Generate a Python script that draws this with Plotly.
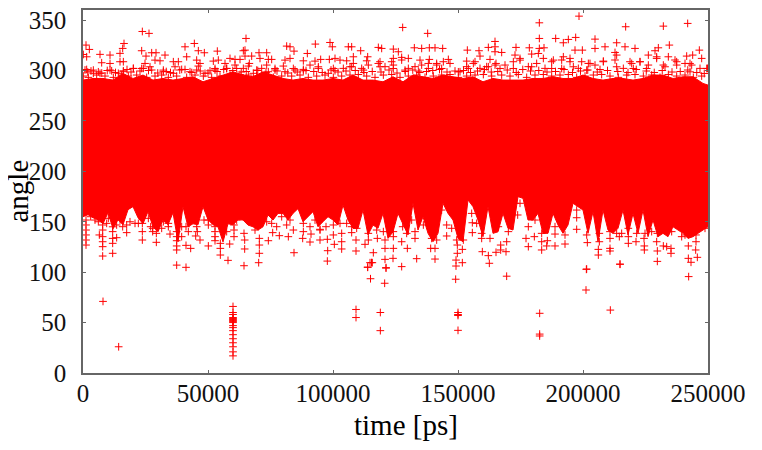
import plotly.graph_objects as go

RED = "#ff0000"
AXIS = "#666666"
FONT = "Liberation Serif, Times New Roman, serif"

band_low_t = list(range(0, 250001, 2000))
band_low = [155,157,154,152,148,159,143,152,147,162,165,154,148,160,145,140,152,147,159,130,165,145,148,147,165,152,147,145,130,148,147,152,
            151.7,146.7,145,141.8,145,156.7,151.7,158.3,158.3,151.7,158.3,163,150,155,160,145,150,155,151.7,146.7,166.6,151.7,143.5,143.5,161.6,137,146.7,143.5,158.3,133.5,140,158.3,
            146.8,136.9,168.3,141.8,155,138.5,130.2,138.5,168.3,158.3,151.7,133.5,130.2,171.6,165,151.7,135.2,165,138.5,140,158.3,143.5,141.8,174.9,173.2,151.7,151.7,158.3,138.5,138.5,158.3,146.8,
            138.5,146.8,168.3,165,161.6,138.5,160,130.2,161.6,141.8,138.5,143.5,161.6,136.9,158.3,138.5,161.6,135.2,151.7,135.2,138.5,135.2,145,141.8,138.5,133.5,135.2,138.5,141.8,145]
band_top_t = list(range(0, 124001, 4000)) + list(range(128000, 248001, 4000)) + [250000]
band_top = [290.5,292.1,292.1,290.5,297.1,292.1,295.5,290.5,292.1,290.5,292.1,293.8,288.8,292.1,295.5,298.7,295.5,293.8,298.7,295.5,292.1,290.5,292.1,290.5,290.5,292.1,290.5,295.5,290.5,290.5,288.8,293.8,
            288.8,295.5,293.8,292.1,295.5,293.8,292.1,293.8,288.8,292.1,290.5,290.5,290.5,292.1,292.1,293.8,292.1,292.1,295.5,292.1,290.5,292.1,292.1,290.5,292.1,295.5,295.5,292.1,293.8,293.8,287.2,285.5]

# Individual + markers above the band
high_t = [23733,26400,1200,2533,133,1467,6800,10800,14800,16400,15870,23470,25200,27470,29200,32800,40800,44530,46130,48530,53730,65200,64130,64800,67470,70400,73470,81470,82800,84400,89730,92930,98800,99730,106130,107470,108130,111070,113870,118130,119470,124130,126130,
          7470,10800,14800,16130,24800,28800,30800,36130,38130,41470,45470,46800,52130,54130,56800,58800,60800,62800,64800,66530,70800,74130,75470,80800,82800,88130,92800,95070,98530,100800,102800,105470,108130,113470,118800,123470,124130,
          1467,4130,6130,11470,16130,20130,23470,26800,32130,36800,40800,46130,50800,52800,57470,61470,66130,69470,73470,76800,80130,84130,88130,94130,100130,106800,112130,118800,124130,
          127870,137870,132530,135470,138530,140800,143870,153730,158400,162130,164800,164800,164800,167470,173200,178530,182530,182530,182530,182130,184400,189070,194130,192130,197070,198400,196800,199730,204800,204800,208800,213470,212800,217070,216800,220800,232130,234530,230130,228800,241870,246530,226130,241470,243870,
          127470,130130,134800,138530,141470,146130,153470,156800,158800,162800,165200,172800,174800,179470,184130,188130,192130,194800,199470,202800,208130,213470,218800,222800,229470,234130,237470,242800,247470,
          128800,134130,138130,143470,150130,154130,162130,166800,172130,179470,187470,191470,196130,201470,206800,213470,220130,225470,232800,237470,242800,249470]
high_v = [338.7,336.8,325.2,320.9,315.9,313.6,316,315.3,317,326.8,321.9,319.6,314.3,317.6,317.6,315.3,323.5,326.8,319.6,317.6,319.2,331.8,319.6,320.2,314.3,317.6,317.6,324.2,323.5,319.2,316.9,326.2,327.8,323.5,323.5,323.5,313.6,319.6,313.6,322.9,321.9,321.2,318.6,
          307.7,307,308.7,308.7,307,310.3,309.6,308.7,308.7,313.6,310.3,307,309.3,310.3,307,312,311,311,314.3,307,312,311,311,310.3,312,309.6,309.3,311,311,312,310.3,309.6,307,309.6,308.7,308.7,312,
          301,300.4,298.7,299.7,299.7,302,302,303.7,300.4,303.7,301,304.4,299.7,302,302,302,304.4,300.4,305.4,302,304.4,302,299.7,303.7,302,303.7,300.4,303.7,302,
          342.7,336.8,322.5,321.9,322.5,322.5,321.9,320.2,319.6,322.9,328.8,323.5,318.6,317.9,322.9,322.5,347.3,331.8,321.9,316.9,322.5,331.8,330.8,327.5,332.8,353.9,320.2,320.2,331.1,321.9,323.5,327.5,317.9,343.4,323.5,321.9,344,325.2,322.5,319.6,346.7,320.2,315.3,314.3,315.3,
          313,312,310.3,311,307,311,309.3,308.7,314.3,311,307,315.3,310.3,316.3,312,310.3,313.6,312,308.7,307,309.3,315.3,308.7,308.7,313.6,313.6,308.7,307,312,
          300.4,299.4,302,302,298.7,302,303.7,302,302,303.7,302,302,303.7,300.4,301,303.7,302,302,303.7,305.4,298.7,302]

fringe_t = [800,4130,6800,10800,14130,16130,20130,24130,27470,32130,36130,39470,42800,45470,48800,52800,57470,60800,64130,68130,71470,74130,76800,80800,
            130,2130,5470,8800,12130,15470,18130,21470,25470,28800,31470,34130,37470,41470,44800,48130,51470,54800,58800,62800,66130,69470,72800,76130,79470,
            84800,88130,90800,94130,98130,100800,104130,107470,111470,114130,118130,120800,124130,127470,130130,132800,135470,138130,141470,144130,146800,150800,153470,156130,158800,161470,164800,
            83470,86800,90130,93470,96800,100130,103470,106800,110130,113470,116800,120130,123470,126800,130130,133470,136800,140130,143470,146800,150130,153470,156800,160130,163470,
            168800,172130,174800,178130,181470,184800,187470,191470,194800,198130,202130,204800,208130,212800,216130,219470,222800,226130,229470,232130,236800,240800,243470,246800,249800,
            167470,170800,174130,177470,180800,184130,187470,190800,194130,197470,200800,204130,207470,210800,214130,217470,220800,224130,227470,230800,234130,237470,240800,244130,247470,
            1900,3200,7500,9700,13000,17600,19200,22800,26200,29900,33300,35000,38700,43500,46900,50000,53600,56300,59900,63300,65300,69900,73200,77600,81900,85700,89200,92300,95700,99200,102000,105200,108900,112400,115700,119200,122400,125600,128900,131900,134700,137400,139900,142600,145600,148800,152200,155000,157800,160600,163300,165900,169700,173300,175900,179000,182300,185600,189000,192400,195800,199000,201900,205700,209800,213900,218000,221300,225300,228500,231700,235600,238900,241900,245500,248500]
fringe_v = [300.5,297.2,297.2,300.5,297.2,298.8,302.1,302.1,300.5,298.8,297.2,301.1,298.8,300.5,297.2,300.5,302.1,305.4,302.1,297.2,302.1,298.8,300.5,298.8,
            294.5,293.2,295.5,294.5,293.2,295.5,294.5,295.5,293.2,294.5,295.5,293.2,294.5,293.2,295.5,294.5,293.2,294.5,295.5,296,295.5,294.5,296,293.2,294.5,
            300.5,301.1,305.4,302.1,297.2,299.8,302.1,303.8,302.1,305.4,307,303.8,305.4,310.4,302.1,303.8,305.4,307,305.4,308.7,307,298.8,303.8,307,302.1,303.8,305.4,
            294.5,295.5,293.2,294.5,295.5,293.2,294.5,295.5,296,294.5,293.2,295.5,296,293.2,294.5,295.5,293.2,294.5,295.5,296,293.2,294.5,295.5,296,294.5,
            305.4,308.7,312,303.8,307,302.1,308.7,310.4,308.7,302.1,307,305.4,308.7,310.4,302.1,307,308.7,305.4,312,305.4,310.4,307,305.4,302.1,302.1,
            295.5,294.5,296,293.2,295.5,296,294.5,295.5,296,293.2,294.5,295.5,296,294.5,293.2,295.5,296,294.5,295.5,293.2,296,294.5,295.5,293.2,294.5,
            298.5,299.5,297.5,300,298,301,298.5,299.5,300,297.5,299,298,300.5,298,299.5,297.5,299,301,300,298.5,299,300,298,299.5,297.5,298.5,300,299,298,300.5,298.5,299.5,300,298,299,298.5,300.5,297.5,299,300.5,298,299,300,301,298.5,299.5,300,298,299.5,301,298.5,299,300.5,298,301,299.5,300,298.5,299,301,298,299.5,300.5,298.5,300,299,298,301,299.5,298,300,298.5,299,300.5,298,297]

# Individual + markers below the band
low_t = [1200,1200,1200,1200,1200,1200,7870,7870,7870,7870,7870,7870,6530,11870,11870,11870,11870,11870,13470,17470,17470,20800,23730,23730,23730,27870,27870,29330,29330,34130,34800,37470,37470,37470,37470,37470,37470,39470,41200,41200,43070,45070,46800,50130,50130,52800,52800,52800,54930,54930,54930,58670,58000,60400,60400,
         64400,64670,64670,64400,70530,70530,70530,70270,74130,75870,78530,82130,84130,84400,87870,88130,90800,91200,94800,94800,97730,97870,97730,100130,100530,103470,103470,103470,107470,109200,109200,112800,114130,116130,114800,115730,113870,117730,120800,120800,120800,121200,124130,124130,124000,
         127470,127470,129730,133470,132800,139070,140800,140800,145470,149730,149730,149200,149200,151730,151730,155730,155730,159730,159470,162130,162530,165200,167070,167070,169200,169470,173870,177200,178130,180530,183470,183470,185730,185470,188800,188800,
         192800,197470,197470,201730,206130,206130,206530,210800,210800,214800,201470,210800,214530,218130,218130,221200,224530,224530,224400,229730,229730,229470,232130,233470,235200,235200,239470,242130,242130,243200,245070,245730,245200,
         3070,4800,6130,9470,10130,13470,14800,15870,18800,22130,26130,27070,31470,32130,34130,39470,41200,42130,45470,45730,48400,50130,52800,57470,60400,61470,
         66130,68800,73470,75470,77470,79470,81470,82800,88130,90800,92800,94800,97200,100130,102800,105470,107470,109470,114130,117470,120130,124130,
         127870,129470,131470,132800,136130,139470,141470,143470,145470,147470,149470,152130,155470,157470,159470,162800,166130,170130,172800,174800,178130,180800,183470,185470,188800,
         192800,197470,201470,204800,206530,210800,213470,215470,218130,221470,224800,227470,229730,232130,235470,236800,238800,240800,242800,245200,248800]
low_v = [151.7,146.8,141.8,136.9,131.9,126.9,146.8,141.8,135.2,130.2,125.3,116,136.9,145,140.2,133.5,128.6,118.7,134.2,146.8,139.2,148.4,148.4,140.2,131.9,143.5,140.2,138.5,129.6,145.1,137.8,140.2,135.2,131.2,126,122,107,135.2,104.8,126.6,123.6,135.9,131.9,146.8,126,140.2,135.2,131.2,128.6,123.6,117,127.9,111.7,141.8,135.2,
         138.5,131.9,123,106.4,133.5,126.9,118.7,109.4,131.2,139.2,136.2,135.2,141.8,119.3,133.5,140.2,129.9,137.8,131.9,142.5,132.6,121.3,111,136.9,127.6,138.5,130.2,123,139.2,131.9,121,127.6,131.9,119.3,109.4,109.4,104.8,133.5,131.9,123.6,112.7,104.5,135.2,123.6,113.7,
         130.2,105.5,123.6,113.4,133.5,123.6,123.6,113,135.9,126.9,118.7,112,106.1,122.6,109.4,149,139.2,120.3,133.5,116.4,108.8,119.7,126.9,122,120.3,130.2,156.7,133.5,125.3,135.2,122,130.2,131.2,126,137.8,126,
         127.9,142.5,154,129.3,122.6,117,130.2,123.6,121,107.8,103.1,133.5,135.2,128.6,135.2,130.2,126,122,133.5,121,110.7,130.2,126,125.3,118.7,123.6,135.2,126,113.7,109.8,122,114.7,130.2,
         155,151.7,150,148.4,153.4,146.8,151.7,145.1,150,148.4,153.4,145.1,143.5,150,148.4,145.1,145.1,140.2,145.1,140.2,151.7,151.7,145.1,140.2,146.8,151.7,
         151.7,141.8,150,148.4,145.1,155,146.8,151.7,148.4,145.1,151.7,141.8,145.1,146.8,148.4,148.4,145.1,143.5,138.5,141.8,140.2,140.2,
         145.1,138.5,151.7,140.2,146.8,133.5,131.9,161.6,146.8,143.5,131.9,131.9,158.3,148.4,138.5,133.5,145.1,140.2,168.3,168.3,145.1,151.7,138.5,145.1,145.1,
         136.9,161.6,136.9,160,138.5,140.2,138.5,138.5,143.5,138.5,138.5,140.2,138.5,141.8,140.2,151.7,146.8,136.9,138.5,136.9,143.5]

# Isolated low outliers
out_t = [8000,14267,60000,60000,60000,60000,60000,60000,60000,60000,60000,60000,60000,60000,60000,60000,60000,60000,60000,60000,
         109200,109200,118933,118933,120667,115000,113867,121200,115400,150000,150000,150000,150000,149067,169467,182667,182667,182667,201200,201333,210933,214800,242267]
out_v = [71,26,66,60,58,55,54,53,52,51,50,47,45,42,38,34,30,26,21,17,
         63,55,60,42,89,93.5,105,104,109.5,60,58,57,42.3,93,96,59.2,38.6,36.7,82.3,102.8,62.4,108,95.6]

# Axis ticks
x_ticks = [0, 50000, 100000, 150000, 200000, 250000]
x_labels = ["0", "50000", "100000", "150000", "200000", "250000"]
y_ticks = [0, 50, 100, 150, 200, 250, 300, 350]
y_labels = ["0", "50", "100", "150", "200", "250", "300", "350"]

fig = go.Figure()
fig.add_trace(go.Scatter(
    x=band_top_t + band_low_t[::-1], y=band_top + band_low[::-1],
    mode="lines", fill="toself", fillcolor=RED, line=dict(color=RED, width=1),
    hoverinfo="skip", showlegend=False))
fig.add_trace(go.Scatter(
    x=high_t + fringe_t + low_t + out_t, y=high_v + fringe_v + low_v + out_v, mode="markers",
    marker=dict(symbol="cross-thin", size=5.5, color=RED, line=dict(color=RED, width=1)),
    showlegend=False))

axis = dict(showgrid=False, zeroline=False, showline=True, linecolor=AXIS, linewidth=1.5,
            mirror="ticks", ticks="inside", ticklen=3, tickwidth=1, tickcolor=AXIS, automargin=False,
            ticklabeloverflow="allow",
            tickfont=dict(family=FONT, size=25, color="#111111"), tickmode="array")
fig.update_xaxes(range=[0, 250000], tickvals=x_ticks, ticktext=x_labels, ticklabelstandoff=-3, **axis)
fig.update_yaxes(range=[0, 360], tickvals=y_ticks, ticktext=y_labels, ticklabelstandoff=10, **axis)
title_font = dict(family=FONT, size=29, color="black")
fig.update_layout(width=762, height=450, margin=dict(l=75, r=62, t=2, b=85),
                  paper_bgcolor="white", plot_bgcolor="white",
                  annotations=[
                      dict(text="time [ps]", xref="paper", yref="paper", x=0.5, y=0, yshift=-52, xshift=10,
                           xanchor="center", yanchor="middle", showarrow=False, font=title_font),
                      dict(text="angle", xref="paper", yref="paper", x=0, y=0.5, xshift=-66, textangle=-90,
                           xanchor="center", yanchor="middle", showarrow=False, font=title_font)])
fig.write_html("out.html")
